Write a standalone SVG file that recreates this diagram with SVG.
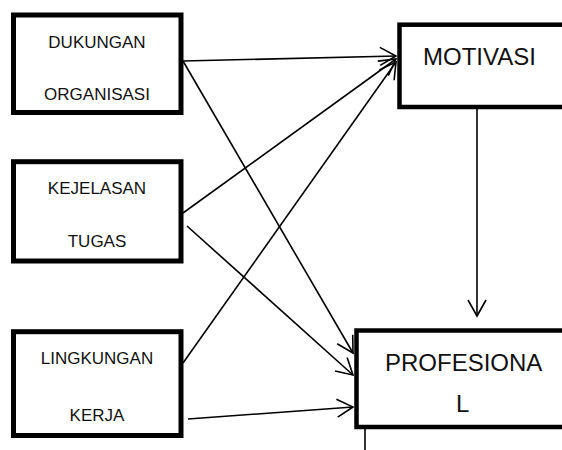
<svg xmlns="http://www.w3.org/2000/svg" width="562" height="450" viewBox="0 0 562 450">
<style>
.box{fill:#fff;stroke:#000;stroke-width:5}
.bigbox{fill:#fff;stroke:#000;stroke-width:4.5}
.t{font-family:"Liberation Sans",Arial,sans-serif;font-size:17px;fill:#111;text-anchor:middle}
.tb{font-family:"Liberation Sans",Arial,sans-serif;font-size:24px;fill:#111}
.c{stroke:#000;stroke-width:1.6;fill:none}
</style>
<defs>
<marker id="ah" markerUnits="userSpaceOnUse" markerWidth="30" markerHeight="30" viewBox="-20 -15 24 30" refX="0" refY="0" orient="auto">
<path d="M-16,-9 L0,0 L-16,9" fill="none" stroke="#000" stroke-width="1.6"/>
</marker>
</defs>
<g id="connectors">
<line class="c" x1="183" y1="61" x2="396" y2="56" marker-end="url(#ah)"/>
<line class="c" x1="183" y1="213" x2="396" y2="59" marker-end="url(#ah)"/>
<line class="c" x1="183" y1="363" x2="396" y2="62" marker-end="url(#ah)"/>
<line class="c" x1="183" y1="61" x2="353" y2="353" marker-end="url(#ah)"/>
<line class="c" x1="187" y1="226" x2="353" y2="375" marker-end="url(#ah)"/>
<line class="c" x1="188" y1="419" x2="353" y2="407" marker-end="url(#ah)"/>
<line class="c" x1="477" y1="109" x2="477" y2="316" marker-end="url(#ah)"/>
<line class="c" x1="365" y1="429" x2="365" y2="450"/>
</g>
<g id="dukungan">
<rect class="box" x="13.5" y="15" width="167.5" height="97.5"/>
<text class="t" x="97" y="48">DUKUNGAN</text>
<text class="t" x="97" y="100">ORGANISASI</text>
</g>
<g id="kejelasan">
<rect class="box" x="13.5" y="161.7" width="167.5" height="99.3"/>
<text class="t" x="97" y="194">KEJELASAN</text>
<text class="t" x="97" y="247">TUGAS</text>
</g>
<g id="lingkungan">
<rect class="box" x="13.5" y="331.7" width="167.5" height="103.8"/>
<text class="t" x="97" y="364">LINGKUNGAN</text>
<text class="t" x="97" y="421">KERJA</text>
</g>
<g id="motivasi">
<rect class="bigbox" x="399.5" y="24.7" width="200" height="82.3"/>
<text class="tb" x="423" y="65">MOTIVASI</text>
</g>
<g id="profesional">
<rect class="bigbox" x="356.5" y="330.5" width="240" height="96.5"/>
<text class="tb" x="385" y="371">PROFESIONA</text>
<text class="tb" x="456" y="412">L</text>
</g>
</svg>
